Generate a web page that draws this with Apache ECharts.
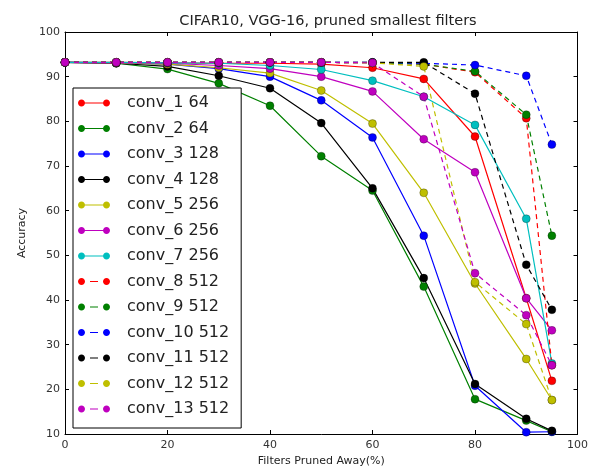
<!DOCTYPE html>
<html><head><meta charset="utf-8">
<script src="https://cdn.jsdelivr.net/npm/echarts@6/dist/echarts.min.js"></script>
<style>html,body{margin:0;padding:0;background:#fff}#c{width:591px;height:472px}</style>
</head><body><div id="c"></div>
<script>
const xValues = [0, 10, 20, 30, 40, 50, 60, 70, 80, 90, 95];
const seriesNames = ['conv_1 64','conv_2 64','conv_3 128','conv_4 128','conv_5 256','conv_6 256','conv_7 256','conv_8 512','conv_9 512','conv_10 512','conv_11 512','conv_12 512','conv_13 512'];
const conv1  = [93.2, 93.2, 93.1, 93.0, 93.0, 92.8, 92.0, 89.5, 76.6, 40.4, 21.9];
const conv2  = [93.2, 93.0, 91.7, 88.5, 83.5, 72.2, 64.5, 43.0, 17.8, 13.0, 10.5];
const conv3  = [93.2, 93.1, 92.8, 91.8, 90.0, 84.7, 76.4, 54.4, 20.8, 10.4, 10.5];
const conv4  = [93.2, 93.0, 92.3, 90.2, 87.4, 79.6, 65.0, 44.9, 21.2, 13.4, 10.7];
const conv5  = [93.2, 93.1, 92.8, 92.0, 90.8, 86.9, 79.5, 64.0, 43.7, 26.8, 17.6];
const conv6  = [93.2, 93.1, 93.0, 92.5, 91.8, 90.0, 86.7, 76.0, 68.6, 40.4, 33.2];
const conv7  = [93.2, 93.2, 93.1, 93.0, 92.5, 91.6, 89.1, 85.5, 79.2, 58.2, 25.8];
const conv8  = [93.2, 93.2, 93.2, 93.2, 93.2, 93.2, 93.1, 92.8, 91.0, 80.7, 25.4];
const conv9  = [93.2, 93.2, 93.2, 93.2, 93.2, 93.2, 93.1, 92.8, 91.2, 81.5, 54.4];
const conv10 = [93.2, 93.2, 93.2, 93.2, 93.2, 93.2, 93.2, 93.0, 92.6, 90.2, 74.8];
const conv11 = [93.2, 93.2, 93.2, 93.2, 93.2, 93.2, 93.2, 93.2, 86.2, 47.9, 37.8];
const conv12 = [93.2, 93.2, 93.2, 93.2, 93.2, 93.2, 93.1, 92.3, 44.0, 34.6, 17.6];
const conv13 = [93.2, 93.2, 93.2, 93.2, 93.2, 93.2, 93.1, 85.5, 46.0, 36.6, 25.4];
const yTicks = [10, 20, 30, 40, 50, 60, 70, 80, 90, 100];
const xTicks = [0, 20, 40, 60, 80, 100];

const allValues = [conv1, conv2, conv3, conv4, conv5, conv6, conv7, conv8, conv9, conv10, conv11, conv12, conv13];
const colors = ['#ff0000','#008000','#0000ff','#000000','#bfbf00','#bf00bf','#00bfbf','#ff0000','#008000','#0000ff','#000000','#bfbf00','#bf00bf'];
const dashed = [false,false,false,false,false,false,false,true,true,true,true,true,true];

// legend glyph: line (or dash) between two dots
function circlePath(cx, cy, r) {
  let s = '';
  for (let k = 0; k < 16; k++) {
    const a = k / 16 * Math.PI * 2;
    s += (k === 0 ? 'M' : 'L') + (cx + r * Math.cos(a)).toFixed(3) + ',' + (cy + r * Math.sin(a)).toFixed(3) + ' ';
  }
  return s + 'Z ';
}
const dotL = circlePath(3.5, 3.5, 3.5), dotR = circlePath(28.5, 3.5, 3.5);
const solidIcon = 'path://M6.8,3 L25.2,3 L25.2,4 L6.8,4 Z ' + dotL + dotR;
const dashIcon = 'path://M12,3 L20,3 L20,4 L12,4 Z ' + dotL + dotR;

const font = 'DejaVu Sans';
const series = allValues.map((vals, i) => ({
  name: seriesNames[i],
  type: 'line',
  data: vals.map((v, j) => [xValues[j], v]),
  symbol: 'circle',
  symbolSize: 8,
  showAllSymbol: true,
  animation: false,
  color: colors[i],
  itemStyle: { color: colors[i], borderColor: 'rgba(0,0,0,0.45)', borderWidth: 0.6 },
  lineStyle: { color: colors[i], width: 1.2, type: dashed[i] ? [5, 4] : 'solid' },
  z: 2
}));

const chart = echarts.init(document.getElementById('c'), null, { renderer: 'canvas' });
chart.setOption({
  animation: false,
  backgroundColor: '#fff',
  title: {
    text: 'CIFAR10, VGG-16, pruned smallest filters',
    left: 323, top: 9, textAlign: 'center',
    textStyle: { fontFamily: font, fontSize: 14.5, fontWeight: 'normal', color: '#222' }
  },
  grid: { left: 65, right: 9, top: 32, bottom: 37, show: false },
  legend: {
    data: seriesNames.map((n, i) => ({ name: n, icon: dashed[i] ? dashIcon : solidIcon })),
    orient: 'vertical',
    left: 73, top: 88,
    itemWidth: 32, itemHeight: 7,
    itemGap: 9.5,
    padding: [7, 12, 11, 5],
    backgroundColor: '#fff',
    borderColor: '#000',
    borderWidth: 1,
    itemStyle: { borderWidth: 0 },
    lineStyle: { width: 0 },
    textStyle: { fontFamily: font, fontSize: 16, color: '#222', lineHeight: 16, padding: [0, 0, 0, 12] },
    z: 10
  },
  xAxis: [{
    type: 'value', min: 0, max: 100, interval: 20,
    name: 'Filters Pruned Away(%)', nameLocation: 'middle', nameGap: 22,
    nameTextStyle: { fontFamily: font, fontSize: 11, color: '#222' },
    axisLine: { show: true, lineStyle: { color: '#000', width: 1 } },
    axisTick: { show: true, inside: true, length: 4, lineStyle: { color: '#000' } },
    axisLabel: { fontFamily: font, fontSize: 11, color: '#333', margin: 6 },
    splitLine: { show: false }
  }, {
    type: 'value', min: 0, max: 100, interval: 20, position: 'top',
    axisLine: { show: true, onZero: false, lineStyle: { color: '#000', width: 1 } },
    axisTick: { show: true, inside: true, length: 4, lineStyle: { color: '#000' } },
    axisLabel: { show: false }, splitLine: { show: false }
  }],
  yAxis: [{
    type: 'value', min: 10, max: 100, interval: 10,
    name: 'Accuracy', nameLocation: 'middle', nameGap: 30,
    nameTextStyle: { fontFamily: font, fontSize: 11, color: '#222' },
    axisLine: { show: true, lineStyle: { color: '#000', width: 1 } },
    axisTick: { show: true, inside: true, length: 4, lineStyle: { color: '#000' } },
    axisLabel: { fontFamily: font, fontSize: 11, color: '#333', margin: 5 },
    splitLine: { show: false }
  }, {
    type: 'value', min: 10, max: 100, interval: 10, position: 'right',
    axisLine: { show: true, onZero: false, lineStyle: { color: '#000', width: 1 } },
    axisTick: { show: true, inside: true, length: 4, lineStyle: { color: '#000' } },
    axisLabel: { show: false }, splitLine: { show: false }
  }],
  series: series
});
</script>
</body></html>
